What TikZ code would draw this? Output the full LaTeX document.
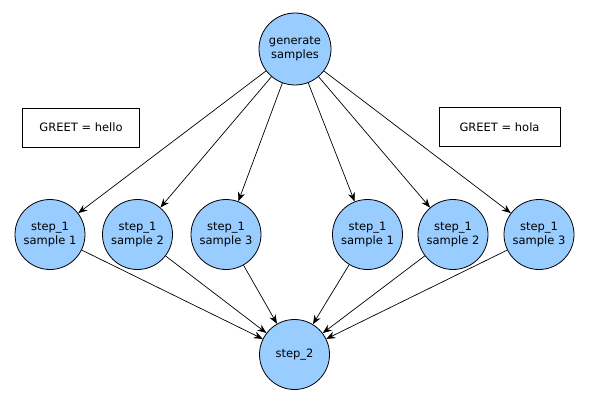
\documentclass[tikz,border=0pt]{standalone}
\usepackage{fontspec}
\setmainfont{DejaVu Sans}
\usetikzlibrary{arrows.meta}
\definecolor{nodeblue}{HTML}{99CCFF}
\begin{document}
\begin{tikzpicture}[x=1pt,y=-1pt,
  circ/.style={circle,draw=black,fill=nodeblue,line width=0.8pt,minimum size=70pt,inner sep=0pt,align=center,font=\fontsize{11.5}{14}\selectfont},
  note/.style={rectangle,draw=black,line width=0.8pt,minimum width=117pt,minimum height=39pt,inner sep=0pt,font=\fontsize{11.5}{14}\selectfont},
  conn/.style={draw=black,line width=0.7pt,-{Stealth[length=9pt,width=7pt]}}]
\useasboundingbox (0,0) rectangle (589,404);
\node[circ,minimum size=72pt] (gen) at (295,49) {generate\\samples};
\node[note] (hello) at (81,127.5) {GREET = hello};
\node[note,minimum width=121pt] (hola) at (499.5,127) {GREET = hola};
\node[circ] (a1) at (50,234.5) {step\_1\\sample 1};
\node[circ] (a2) at (137.5,234.5) {step\_1\\sample 2};
\node[circ] (a3) at (226,234.5) {step\_1\\sample 3};
\node[circ] (b1) at (367.5,234.5) {step\_1\\sample 1};
\node[circ] (b2) at (453,234.5) {step\_1\\sample 2};
\node[circ] (b3) at (539,234.5) {step\_1\\sample 3};
\node[circ] (s2) at (294.5,354.5) {step\_2};
\foreach \n in {a1,a2,a3,b1,b2,b3}{
  \draw[conn] (gen) -- (\n);
  \draw[conn] (\n) -- (s2);
}
\end{tikzpicture}
\end{document}
